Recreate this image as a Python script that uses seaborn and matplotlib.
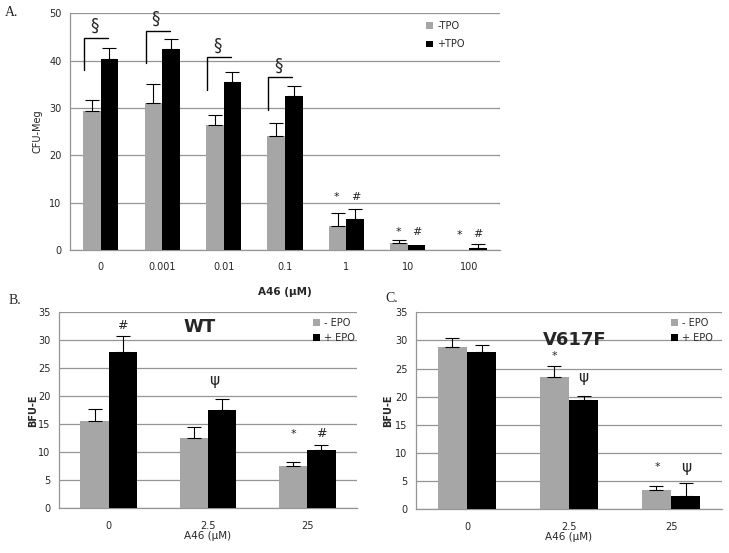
import numpy as np
import pandas as pd
import matplotlib
matplotlib.use('Agg')
import matplotlib.pyplot as plt
from matplotlib.patches import Patch
import seaborn as sns

# Panel A: CFU-Meg colonies vs A46 dose
a_doses = ['0', '0.001', '0.01', '0.1', '1', '10', '100']
a_minus_tpo = [29.3, 31.0, 26.4, 24.0, 5.0, 1.5, 0.0]
a_plus_tpo = [40.4, 42.5, 35.5, 32.5, 6.5, 1.0, 0.5]
a_minus_err = [2.4, 4.1, 2.1, 2.8, 2.8, 0.7, 0.0]
a_plus_err = [2.3, 2.1, 2.1, 2.1, 2.2, 0.0, 0.7]
a_labels = ['-TPO', '+TPO']

# Panel B: WT BFU-E
b_doses = ['0', '2.5', '25']
b_minus_epo = [15.6, 12.5, 7.5]
b_plus_epo = [28.0, 17.5, 10.5]
b_minus_err = [2.1, 2.1, 0.75]
b_plus_err = [2.8, 2.1, 0.8]

# Panel C: V617F BFU-E
c_doses = ['0', '2.5', '25']
c_minus_epo = [28.9, 23.5, 3.4]
c_plus_epo = [28.0, 19.5, 2.4]
c_minus_err = [1.5, 2.0, 0.7]
c_plus_err = [1.25, 0.65, 2.3]
epo_labels = ['- EPO', '+ EPO']

GRAY = '#a6a6a6'
GRID = '#959595'
W, H = 729, 553


def draw_panel(ax, doses, minus, plus, minus_err, plus_err, labels, ymax, ystep, capsize):
    df = pd.DataFrame({
        'dose': doses * 2,
        'value': minus + plus,
        'group': [labels[0]] * len(doses) + [labels[1]] * len(doses),
    })
    sns.barplot(data=df, x='dose', y='value', hue='group', order=doses,
                hue_order=labels, palette=[GRAY, 'black'], width=0.57, gap=0,
                saturation=1, errorbar=None, legend=False, ax=ax, zorder=3,
                linewidth=0, edgecolor='none')
    for cont, err in zip(ax.containers, [minus_err, plus_err]):
        for p, e in zip(cont, err):
            if e <= 0:
                continue
            x = p.get_x() + p.get_width() / 2
            ax.errorbar(x, p.get_height(), yerr=[[0], [e]], fmt='none',
                        ecolor='black', elinewidth=0.8, capsize=capsize,
                        capthick=0.8, zorder=4)
    ax.set_ylim(0, ymax)
    ax.set_yticks(np.arange(0, ymax + 0.1, ystep))
    ax.set_xlim(-0.5, len(doses) - 0.5)
    ax.yaxis.grid(True, color=GRID, linewidth=0.9, zorder=0)
    ax.xaxis.grid(False)
    ax.set_axisbelow(True)
    for s in ['top', 'right']:
        ax.spines[s].set_visible(False)
    for s in ['left', 'bottom']:
        ax.spines[s].set_color(GRID)
        ax.spines[s].set_linewidth(0.9)
    ax.set_xticks(np.arange(-0.5, len(doses)), minor=True)
    ax.tick_params(axis='x', which='major', length=0, labelsize=7, pad=9)
    ax.tick_params(axis='x', which='minor', length=4, color=GRID, direction='out')
    ax.tick_params(axis='y', length=4, color=GRID, labelsize=7, pad=2)
    ax.set_facecolor('white')
    handles = [Patch(facecolor=GRAY, edgecolor='none', label=labels[0]),
               Patch(facecolor='black', edgecolor='none', label=labels[1])]
    return handles


sns.set_style('white')
plt.rcParams['font.family'] = ['DejaVu Sans']

fig = plt.figure(figsize=(W / 100, H / 100), dpi=100)
fig.patch.set_facecolor('white')


def axes_rect(x0, y0, x1, y1):
    return [x0 / W, 1 - y1 / H, (x1 - x0) / W, (y1 - y0) / H]


ax_a = fig.add_axes(axes_rect(70, 13.3, 500, 250))
ax_b = fig.add_axes(axes_rect(59, 312.3, 357, 508.3))
ax_c = fig.add_axes(axes_rect(416, 312.3, 722, 509.3))

# ---- Panel A ----
h = draw_panel(ax_a, a_doses, a_minus_tpo, a_plus_tpo, a_minus_err, a_plus_err,
               a_labels, 50, 10, 5)
ax_a.legend(handles=h, loc='upper left', bbox_to_anchor=(0.82, 0.985), frameon=False,
            fontsize=7, handlelength=0.7, handleheight=0.7, handletextpad=0.4,
            labelspacing=0.9, borderaxespad=0)
ax_a.set_ylabel('CFU-Meg', fontsize=7)
ax_a.yaxis.set_label_coords(-0.065, 0.5)
ax_a.set_xlabel('A46 (μM)', fontsize=7.5, fontweight='bold')
ax_a.xaxis.set_label_coords(0.5, -0.155)

# significance brackets (x0, x1, bottom, top) in category / data units
bracket_x0 = [-0.27, 0.73, 1.73, 2.73]
bracket_x1 = [0.12, 1.12, 2.12, 3.12]
bracket_lo = [38.0, 39.4, 33.8, 29.6]
bracket_hi = [44.8, 46.3, 40.7, 36.5]
for x0, x1, lo, hi in zip(bracket_x0, bracket_x1, bracket_lo, bracket_hi):
    ax_a.plot([x0, x0, x1], [lo, hi, hi], color='black', linewidth=1.0,
              solid_joinstyle='miter', zorder=5)
    ax_a.text((x0 + x1) / 2 - 0.03, hi + 0.6, '§', ha='center', va='bottom', fontsize=12)

a_marks = [('*', 3.84, 11.2), ('#', 4.16, 11.2), ('*', 4.84, 3.9), ('#', 5.14, 3.9),
           ('*', 5.84, 3.1), ('#', 6.14, 3.3)]
for s, x, y in a_marks:
    ax_a.text(x, y, s, ha='center', va='center', fontsize=8, color='#222222')

# ---- Panel B ----
h = draw_panel(ax_b, b_doses, b_minus_epo, b_plus_epo, b_minus_err, b_plus_err,
               epo_labels, 35, 5, 5)
ax_b.legend(handles=h, loc='upper left', bbox_to_anchor=(0.84, 0.99), frameon=False,
            fontsize=7, handlelength=0.7, handleheight=0.7, handletextpad=0.4,
            labelspacing=0.5, borderaxespad=0)
ax_b.set_ylabel('BFU-E', fontsize=7, fontweight='bold')
ax_b.yaxis.set_label_coords(-0.07, 0.5)
ax_b.set_xlabel('A46 (μM)', fontsize=7.5)
ax_b.xaxis.set_label_coords(0.5, -0.115)
ax_b.text(0.92, 32.4, 'WT', ha='center', va='center', fontsize=13, fontweight='bold')
b_marks = [('#', 0.14, 32.6, 9), ('ψ', 1.06, 22.9, 11), ('*', 1.86, 13.3, 8), ('#', 2.14, 13.4, 9)]
for s, x, y, fs in b_marks:
    ax_b.text(x, y, s, ha='center', va='center', fontsize=fs, color='#222222')

# ---- Panel C ----
h = draw_panel(ax_c, c_doses, c_minus_epo, c_plus_epo, c_minus_err, c_plus_err,
               epo_labels, 35, 5, 5)
ax_c.legend(handles=h, loc='upper left', bbox_to_anchor=(0.82, 0.99), frameon=False,
            fontsize=7, handlelength=0.7, handleheight=0.7, handletextpad=0.4,
            labelspacing=0.5, borderaxespad=0)
ax_c.set_ylabel('BFU-E', fontsize=7, fontweight='bold')
ax_c.yaxis.set_label_coords(-0.075, 0.5)
ax_c.set_xlabel('A46 (μM)', fontsize=7.5)
ax_c.xaxis.set_label_coords(0.5, -0.115)
ax_c.text(1.06, 30.1, 'V617F', ha='center', va='center', fontsize=13, fontweight='bold')
c_marks = [('*', 0.86, 27.2, 8), ('ψ', 1.14, 23.4, 11), ('*', 1.87, 7.5, 8), ('ψ', 2.15, 7.5, 11)]
for s, x, y, fs in c_marks:
    ax_c.text(x, y, s, ha='center', va='center', fontsize=fs, color='#222222')

# panel letters
for letter, x, y in [('A.', 12, 12), ('B.', 15, 300), ('C.', 392, 298)]:
    fig.text(x / W, 1 - y / H, letter, ha='center', va='center', fontsize=10,
             family='Liberation Serif')

fig.savefig('out.png', dpi=100, facecolor='white')
